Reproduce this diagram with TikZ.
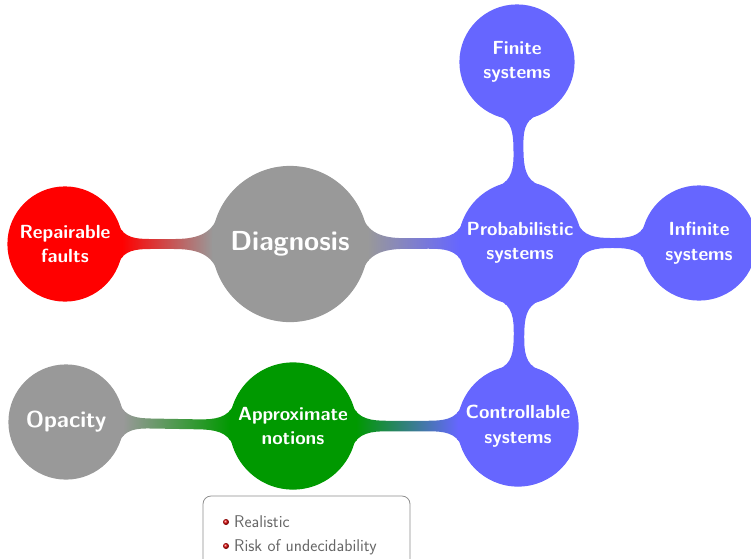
\documentclass[tikz,border=0pt]{standalone}
\usepackage{fontspec}
\usetikzlibrary{mindmap,shadings}
\colorlet{diaggray}{black!40}
\colorlet{probblue}{blue!60}
\colorlet{approxgreen}{green!60!black}
\colorlet{faultred}{red}
\colorlet{notegray}{black!60}
\tikzset{
  idea/.style={concept, circle, minimum size=#1, inner sep=0pt,
    text width=, align=center, text=white,
    font=\sffamily\bfseries\fontsize{19}{24.5}\selectfont},
  notebox/.style={draw=black!45, rounded corners=8pt, line width=0.8pt},
  notetext/.style={text=notegray, font=\sffamily\fontsize{17}{20}\selectfont, anchor=base west, inner sep=0pt},
  notebullet/.style={circle, inner sep=0pt, minimum size=6pt, ball color=red!85!black},
}
\begin{document}
\begin{tikzpicture}[x=1pt, y=-1pt]
\useasboundingbox (0,0) rectangle (751,558);
\clip (0,0) rectangle (751,558);

\begin{scope}[mindmap]
% concepts
\node[idea=155pt, concept color=diaggray, font=\sffamily\bfseries\fontsize{27.5}{30}\selectfont] (diag) at (290,244) {Diagnosis};
\node[idea=114pt, concept color=faultred] (rep) at (65,244) {Repairable\\faults};
\node[idea=122pt, concept color=probblue] (prob) at (520,243) {Probabilistic\\systems};
\node[idea=114pt, concept color=probblue] (fin) at (517,62) {Finite\\systems};
\node[idea=114pt, concept color=probblue] (inf) at (699,243) {Infinite\\systems};
\node[idea=120pt, concept color=probblue] (ctrl) at (518,426) {Controllable\\systems};
\node[idea=126pt, concept color=approxgreen] (approx) at (293,426) {Approximate\\notions};
\node[idea=114pt, concept color=diaggray, font=\sffamily\bfseries\fontsize{23}{26}\selectfont] (opac) at (66,422) {Opacity};

% connection bars
\path (diag) to[circle connection bar switch color=from (diaggray) to (faultred)] (rep);
\path (diag) to[circle connection bar switch color=from (diaggray) to (probblue)] (prob);
\path (prob) to[circle connection bar switch color=from (probblue) to (probblue)] (fin);
\path (prob) to[circle connection bar switch color=from (probblue) to (probblue)] (inf);
\path (prob) to[circle connection bar switch color=from (probblue) to (probblue)] (ctrl);
\path (ctrl) to[circle connection bar switch color=from (probblue) to (approxgreen)] (approx);
\path (approx) to[circle connection bar switch color=from (approxgreen) to (diaggray)] (opac);
\end{scope}

% note box
\draw[notebox] (203,496) rectangle (410,575);
\node[notebullet] (b1) at (226,522) {};
\node[notetext] (t1) at (234,527) {Realistic};
\node[notebullet] (b2) at (226,546) {};
\node[notetext] (t2) at (234,551) {Risk of undecidability};
\end{tikzpicture}
\end{document}
